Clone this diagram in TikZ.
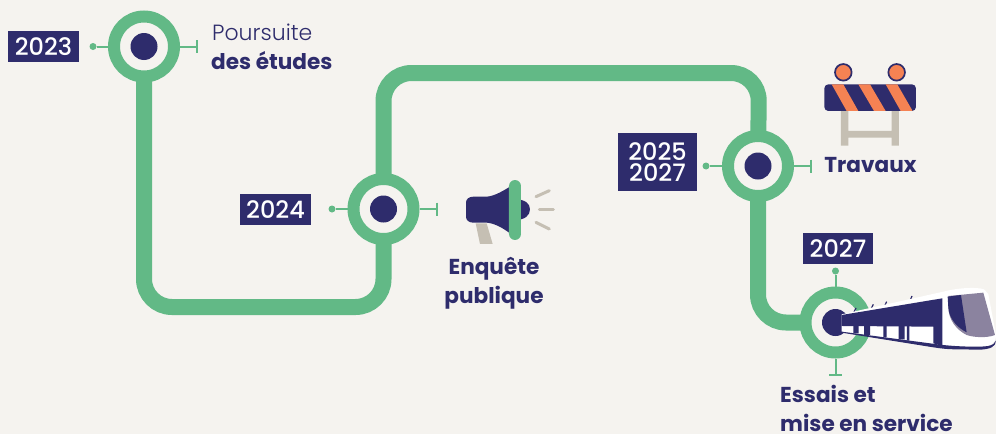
\documentclass[tikz,border=0pt]{standalone}
\usepackage{fontspec}
\setmainfont{Poppins}
\newfontfamily\yearfont{Poppins Medium}
\newfontfamily\lightfont{Poppins Light}
\usetikzlibrary{backgrounds}
\definecolor{bgc}{HTML}{F5F3EF}
\definecolor{grn}{HTML}{62B986}
\definecolor{navy}{HTML}{2E2C6C}
\definecolor{org}{HTML}{F58253}
\definecolor{gry}{HTML}{C5BFB3}
\definecolor{lilac}{HTML}{8B839F}
\tikzset{
  ring/.style={circle,draw=grn,line width=12pt,fill=bgc,minimum size=60pt,inner sep=0pt,outer sep=6pt},
  core/.style={circle,fill=navy,minimum size=27pt,inner sep=0pt},
  track/.style={draw=grn,line width=16pt,rounded corners=28pt},
  tick/.style={draw=grn,line width=2pt},
  tip/.style={circle,fill=grn,minimum size=7pt,inner sep=0pt},
  bar/.style={draw=grn,line width=2.4pt},
  year/.style={fill=navy,text=white,font=\fontsize{24}{25}\selectfont\yearfont,align=center,inner sep=0pt},
  lab/.style={text=navy,font=\fontsize{21.6}{30}\selectfont\bfseries,inner sep=0pt,align=center},
  ray/.style={draw=gry,line width=3pt,line cap=round}
}
\begin{document}
\begin{tikzpicture}[x=1pt,y=-1pt]
\useasboundingbox (0,0) rectangle (996,434);
% stations
\node[ring] (s1) at (144,46.5) {};
\node[ring] (s2) at (383.5,209) {};
\node[ring] (s3) at (758,166) {};
\node[ring] (s4) at (835.5,322.5) {};
\node[core] (d1) at (s1) {};
\node[core] (d2) at (s2) {};
\node[core] (d3) at (s3) {};
\node[core] (d4) at (s4) {};
\begin{scope}[on background layer]
\fill[bgc] (0,0) rectangle (996,434);
\draw[track] (s1.center) -- (s1.center |- 0,307) -- (s2.center |- 0,307) -- (s2.center);
\draw[track] (s2.center) -- (s2.center |- 0,73) -- (759,73) -- (s3.center);
\draw[track] (s3.center) -- (s3.center |- s4.center) -- (s4.center);
\end{scope}
% ticks
\foreach \s/\lx/\rx/\yy in {s1/93/197/46.5,s2/332/437/209,s3/706/811/166}{
  \node[tip] (\s l) at (\lx,\yy) {};
  \coordinate (\s r) at (\rx,\yy);
  \draw[tick] (\s.west) -- (\s l);
  \draw[tick] (\s.east) -- (\s r);
  \draw[bar] (\rx,\yy-6.5) -- (\rx,\yy+6.5);
}
\node[tip] (s4t) at (835.5,271) {};
\coordinate (s4b) at (835.5,375);
\draw[tick] (s4.north) -- (s4t);
\draw[tick] (s4.south) -- (s4b);
\draw[bar] (829,375) -- (842,375);
% years
\node[year,minimum width=71pt,minimum height=31pt] (y1) at (43.5,46.5) {2023};
\node[year,minimum width=71pt,minimum height=31pt] (y2) at (275.5,209.5) {2024};
\node[year,minimum width=79pt,minimum height=58pt,font=\fontsize{24}{21}\selectfont\yearfont] (y3) at (657.5,162) {2025\\2027};
\node[year,minimum width=70pt,minimum height=31pt] (y4) at (838,248.5) {2027};
% labels
\node[text=navy,anchor=base west,inner sep=0pt,font=\fontsize{22}{24}\selectfont\lightfont] (t1) at (212,40) {Poursuite};
\node[lab,anchor=base west] (t1b) at (211,69.5) {des études};
\node[lab,anchor=base] (t2) at (870.5,172) {Travaux};
\node[lab,anchor=base] (t3) at (494,274) {Enquête};
\node[lab,anchor=base] (t3b) at (494,303) {publique};
\node[lab,anchor=base west] (t4) at (780,402.5) {Essais et};
\node[lab,anchor=base west] (t4b) at (780,431) {mise en service};
% barrier
\begin{scope}[shift={(690,50)},x=0.3333pt,y=-0.3333pt]
\fill[gry] (453,180) rectangle (475,287) (605,180) rectangle (627,287) (453,243) rectangle (627,263);
\begin{scope}
\path[clip,rounded corners=4pt] (403,103) rectangle (678,183);
\fill[navy] (403,103) rectangle (678,183);
\fill[org] (425,103) -- (460,103) -- (505,183) -- (470,183) -- cycle
 (505,103) -- (540,103) -- (587,183) -- (552,183) -- cycle
 (587,103) -- (622,103) -- (668,183) -- (632,183) -- cycle;
\end{scope}
\foreach \c in {460,620}\draw[navy,fill=org,line width=1.7pt] (\c,67) circle (8.3pt);
\end{scope}
% megaphone
\begin{scope}[shift={(440,170)},x=0.3333pt,y=-0.3333pt]
\fill[gry] (107,160) -- (140,160) -- (158,222) -- (120,222) -- cycle;
\fill[navy] (225,88) .. controls (255,88) and (270,100) .. (270,118) .. controls (270,136) and (255,150) .. (225,150) -- cycle;
\fill[navy] (100,80) -- (140,80) .. controls (165,78) and (190,62) .. (210,50) -- (210,190) .. controls (190,175) and (165,160) .. (140,158) -- (100,158) .. controls (86,158) and (78,150) .. (78,140) -- (78,98) .. controls (78,88) and (86,80) .. (100,80) -- cycle;
\fill[grn,rounded corners=6pt] (207,30) rectangle (243,210);
\draw[ray] (288,80) -- (328,62);
\draw[ray] (298,118) -- (340,118);
\draw[ray] (288,157) -- (328,177);
\end{scope}
% tram
\begin{scope}[shift={(780,220)},x=0.3333pt,y=-0.3333pt]
\draw[navy,line width=1.2pt] (222,276) -- (228,264) (272,269) -- (280,253) (312,262) -- (320,245) (388,248) -- (396,228);
\fill[white] (185,283) -- (490,215) .. controls (530,204) and (590,200) .. (612,208) -- (625,222) -- (648,345) .. controls (648,372) and (630,380) .. (600,380) -- (490,378) -- (185,335) -- cycle;
\fill[navy] (185,285) -- (487,235) -- (487,378) -- (460,370) -- (460,320) -- (185,318) -- cycle;
\fill[navy] (185,335) -- (480,374) .. controls (530,380) and (600,382) .. (625,378) .. controls (638,375) and (645,370) .. (648,362) .. controls (648,380) and (630,388) .. (600,389) -- (530,388) .. controls (500,388) and (480,385) .. (460,382) -- (185,338) -- cycle;
\fill[navy] (220,318) rectangle (236,340) (252,318) rectangle (270,345) (310,318) rectangle (320,352) (356,318) rectangle (374,358) (381,318) rectangle (388,362);
\fill[lilac] (505,228) -- (610,218) -- (645,345) .. controls (620,355) and (580,352) .. (560,345) .. controls (530,330) and (505,300) .. (505,260) -- cycle;
\fill[navy] (503,230) -- (543,225) -- (560,337) .. controls (530,322) and (507,295) .. (505,262) -- cycle;
\end{scope}
\end{tikzpicture}
\end{document}
